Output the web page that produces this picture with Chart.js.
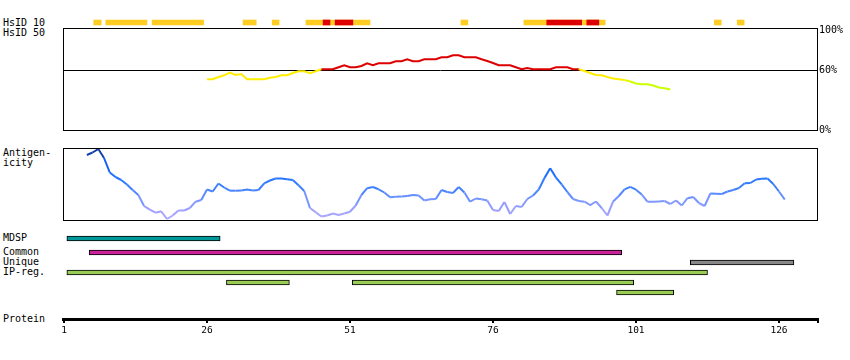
<!DOCTYPE html>
<html>
<head>
<meta charset="utf-8">
<title>HsID / antigenicity map</title>
<script src="https://cdn.jsdelivr.net/npm/chart.js@4.4.1/dist/chart.umd.min.js"></script>
<style>
  body { margin: 0; background: #fff; }
  #wrap { position: relative; width: 850px; height: 360px; overflow: hidden;
          font: 10px "DejaVu Sans Mono", monospace; color: #000; }
  #wrap canvas { position: absolute; left: 0; }
  .lbl { position: absolute; left: 3px; line-height: 10px; white-space: pre; }
</style>
</head>
<body>
<div id="wrap">
  <div class="lbl" style="top:18px">HsID 10</div>
  <div class="lbl" style="top:28px">HsID 50</div>
  <div class="lbl" style="top:148px">Antigen-
icity</div>
  <div class="lbl" style="top:233px">MDSP</div>
  <div class="lbl" style="top:247px">Common
Unique
IP-reg.</div>
  <div class="lbl" style="top:314px">Protein</div>

  <canvas id="hsid10" width="850" height="11" style="top:17px"></canvas>
  <canvas id="hsid50" width="850" height="120" style="top:20px"></canvas>
  <canvas id="antigen" width="850" height="90" style="top:140px"></canvas>
  <canvas id="mdsp" width="850" height="11" style="top:233px"></canvas>
  <canvas id="tracks" width="850" height="51" style="top:247px"></canvas>
  <canvas id="protein" width="850" height="45" style="top:300px"></canvas>
</div>

<script>
// residue ranges [start, end]
const hsid10Yellow = [[6.2, 7.5], [8.3, 15.5], [16.4, 25.4], [32.3, 34.6], [37.4, 38.6],
                      [43.3, 54.5], [70.4, 71.6], [81.4, 95.6], [114.7, 115.9], [118.7, 119.9]];
const hsid10Red    = [[46.3, 47.5], [48.4, 51.5], [85.4, 91.5], [92.4, 94.5]];

// HsID 50 identity (%), one value per residue from hsid50Start
const hsid50Start = 26;
const hsid50 = [50.7, 50.7, 53, 54.7, 57.5, 55, 56, 50.7, 50.7, 50.7,
                50.7, 52.3, 53, 54.7, 54.7, 57, 58.7, 58.7, 56.7, 58.7,
                60.7, 60.7, 60.7, 62.7, 64.7, 62.7, 62.7, 64, 66.7, 64.7,
                66.7, 66.7, 66.7, 68.7, 68.7, 70.7, 68.7, 68.7, 70.7, 70.7,
                70.7, 72.7, 72.7, 74.7, 74.7, 72.7, 72.7, 72.7, 70.7, 69,
                67, 64.7, 64.7, 64.7, 62.7, 60.7, 62, 60.7, 60.7, 60.7,
                60.7, 62.7, 62.7, 62.7, 60.7, 60.7, 59, 57, 55, 54.7,
                53, 51.5, 50.7, 50, 48.5, 46.5, 45.7, 45.7, 44.5, 42.5,
                41.7, 40.5];
const pctTicks = [0, 60, 100];

// antigenicity score, one value per residue from antigenStart
const antigenStart = 5;
const antigen = [65, 67.5, 71, 62, 47.5, 43, 40, 35.5, 30, 25,
                 14, 10.3, 7.3, 8.7, 1, 4.5, 9.5, 9.5, 12, 18.3,
                 20, 30.5, 28.5, 36.5, 32.5, 29.3, 29.3, 29.5, 30.5, 29.5,
                 30, 36.7, 39.5, 41.5, 41.5, 40.7, 40, 34.7, 29, 12,
                 7.7, 3.5, 4.5, 6.5, 5, 6.5, 8.3, 14.5, 25, 31.8,
                 33, 30.7, 27.5, 22.8, 23.2, 23.4, 24, 25, 24.5, 19.5,
                 20.7, 21, 30, 28, 27, 33, 27.5, 18.3, 21.5, 20.7,
                 19.5, 10, 9, 18, 6, 14, 13, 21, 24.5, 30.5,
                 42, 51.7, 42.5, 35.7, 28, 21, 19, 18.3, 15, 18.5,
                 12, 4.5, 18.5, 24, 30.7, 33.2, 30.3, 25.5, 18.3, 18.2,
                 18.5, 19, 16, 19.5, 14.5, 21.8, 23, 17, 14, 26.5,
                 26.2, 26, 28.5, 30, 32, 36.7, 37, 40.5, 41.2, 41.5,
                 36, 28.5, 20.5];

const mdsp     = [[1.5, 28.3]];
const common   = [[5.4, 98.5]];
const unique   = [[110.5, 128.6]];
const ipRegs   = [[1.5, 113.5], [29.4, 40.4], [51.4, 100.6], [97.6, 107.6]];

const proteinTicks = [1, 26, 51, 76, 101, 126];

// ---- layout ----
const PX_PER_RES = 5.72, RES1_PX = 64, AREA_L = 63, AREA_R = 818, W = 850;
const X_MIN = 1 + (AREA_L - RES1_PX) / PX_PER_RES;
const X_MAX = 1 + (AREA_R - RES1_PX) / PX_PER_RES;

Chart.defaults.font.family = '"DejaVu Sans Mono", monospace';
Chart.defaults.font.size = 10;
Chart.defaults.color = '#000';

const xAxis = () => ({ type: 'linear', min: X_MIN, max: X_MAX, display: false });

function baseOptions(extra) {
  return Object.assign({
    responsive: false, animation: false, events: [],
    plugins: { legend: { display: false }, tooltip: { enabled: false } }
  }, extra);
}

// panel frame + optional reference line
const framePlugin = {
  id: 'frame',
  beforeDatasetsDraw(chart, args, opts) {
    if (opts.refLine == null) return;
    const { ctx, chartArea: a } = chart;
    const y = Math.round(chart.scales.y.getPixelForValue(opts.refLine)) + 0.5;
    ctx.save();
    ctx.strokeStyle = '#000'; ctx.lineWidth = 1;
    ctx.beginPath(); ctx.moveTo(a.left, y); ctx.lineTo(a.right, y); ctx.stroke();
    ctx.restore();
  },
  afterDraw(chart, args, opts) {
    if (!opts.box) return;
    const { ctx, chartArea: a } = chart;
    ctx.save();
    ctx.strokeStyle = '#000'; ctx.lineWidth = 1;
    ctx.strokeRect(a.left + 0.5, a.top + 0.5, a.right - a.left - 1, a.bottom - a.top);
    ctx.restore();
  }
};

function barSet(ranges, row, color, bordered, order) {
  return {
    data: ranges.map(r => ({ x: r, y: row })),
    backgroundColor: color,
    borderColor: '#000',
    borderWidth: bordered ? 1 : 0,
    borderSkipped: false,
    barThickness: 5,
    grouped: false,
    order: order || 0
  };
}

function trackChart(id, rows, datasets) {
  return new Chart(document.getElementById(id), {
    type: 'bar',
    data: { labels: rows, datasets },
    options: baseOptions({
      indexAxis: 'y',
      layout: { padding: { left: AREA_L, right: W - AREA_R, top: 0.5, bottom: 0.5 } },
      scales: { x: xAxis(), y: { type: 'category', display: false } }
    })
  });
}

// lanes for overlapping regions
function packLanes(ranges) {
  const ends = [];
  return ranges.map(([s, e]) => {
    let lane = ends.findIndex(end => end < s);
    if (lane < 0) { lane = ends.length; ends.push(e); } else ends[lane] = e;
    return lane;
  });
}

// HsID 10 (red drawn over yellow)
new Chart(document.getElementById('hsid10'), {
  type: 'bar',
  data: { labels: ['HsID 10'], datasets: [
    barSet(hsid10Yellow, 'HsID 10', '#ffcc22', false, 2),
    barSet(hsid10Red, 'HsID 10', '#dd0000', false, 1)
  ] },
  options: baseOptions({
    indexAxis: 'y',
    layout: { padding: { left: AREA_L, right: W - AREA_R, top: 0, bottom: 0 } },
    scales: { x: xAxis(), y: { type: 'category', display: false } }
  })
});

// HsID 50
function hsidColor(v) {
  if (v > 60) return '#dd0000';
  if (v >= 50) return '#ffee00';
  if (v >= 47) return '#e6f700';
  return '#ccff00';
}
new Chart(document.getElementById('hsid50'), {
  type: 'line',
  data: { datasets: [{
    data: hsid50.map((v, i) => ({ x: hsid50Start + i, y: v })),
    borderWidth: 2, pointRadius: 0, tension: 0,
    segment: { borderColor: c => hsidColor(Math.min(c.p0.parsed.y, c.p1.parsed.y)) }
  }] },
  options: baseOptions({
    layout: { padding: { left: AREA_L, right: 0, top: 8, bottom: 10 } },
    scales: {
      x: xAxis(),
      y: {
        position: 'right', min: 0, max: 102,
        afterBuildTicks: s => { s.ticks = pctTicks.map(v => ({ value: v })); },
        afterFit: s => { s.width = W - AREA_R; },
        ticks: { callback: v => v + '%', padding: 1, autoSkip: false },
        grid: { display: false, drawTicks: false },
        border: { display: false }
      }
    },
    plugins: { legend: { display: false }, tooltip: { enabled: false }, frame: { box: true, refLine: 60 } }
  }),
  plugins: [framePlugin]
});

// Antigenicity
const antigenStops = [[0, [176, 170, 255]], [10, [160, 160, 255]], [20, [120, 150, 255]], [30, [70, 130, 255]],
                      [40, [40, 120, 255]], [52, [20, 100, 255]], [62, [20, 80, 200]], [72, [10, 50, 140]]];
function antigenColor(v) {
  for (let i = 1; i < antigenStops.length; i++) {
    const [v1, c1] = antigenStops[i], [v0, c0] = antigenStops[i - 1];
    if (v <= v1 || i === antigenStops.length - 1) {
      const t = Math.max(0, Math.min(1, (v - v0) / (v1 - v0)));
      return 'rgb(' + c0.map((c, k) => Math.round(c + (c1[k] - c) * t)).join(',') + ')';
    }
  }
}
new Chart(document.getElementById('antigen'), {
  type: 'line',
  data: { datasets: [{
    data: antigen.map((v, i) => ({ x: antigenStart + i, y: v })),
    borderWidth: 2, pointRadius: 0, tension: 0,
    segment: { borderColor: c => antigenColor((c.p0.parsed.y + c.p1.parsed.y) / 2) }
  }] },
  options: baseOptions({
    layout: { padding: { left: AREA_L, right: W - AREA_R, top: 8, bottom: 10 } },
    scales: { x: xAxis(), y: { min: 0, max: 72, display: false } },
    plugins: { legend: { display: false }, tooltip: { enabled: false }, frame: { box: true } }
  }),
  plugins: [framePlugin]
});

// MDSP
trackChart('mdsp', ['MDSP'], [barSet(mdsp, 'MDSP', '#009999', true)]);

// Common / Unique / IP-reg.
const lanes = packLanes(ipRegs);
const laneRows = [...new Set(lanes)].map(l => 'IP-reg. ' + l);
trackChart('tracks', ['Common', 'Unique', ...laneRows], [
  barSet(common, 'Common', '#cc2299', true),
  barSet(unique, 'Unique', '#888888', true),
  {
    ...barSet(ipRegs, null, '#99cc55', true),
    data: ipRegs.map((r, i) => ({ x: r, y: 'IP-reg. ' + lanes[i] }))
  }
]);

// Protein axis
new Chart(document.getElementById('protein'), {
  type: 'line',
  data: { datasets: [] },
  options: baseOptions({
    layout: { padding: { left: AREA_L, right: W - AREA_R, top: 0, bottom: 0 } },
    scales: {
      x: {
        type: 'linear', min: X_MIN, max: X_MAX, position: 'bottom',
        afterBuildTicks: s => { s.ticks = proteinTicks.concat([X_MAX]).map(v => ({ value: v })); },
        afterFit: s => { s.height = 26; },
        ticks: {
          autoSkip: false, maxRotation: 0, padding: 2, font: { size: 9.5 },
          callback: v => proteinTicks.includes(v) ? String(v) : ''
        },
        grid: { drawOnChartArea: false, drawTicks: true, tickLength: 4, color: '#000', lineWidth: 2 },
        border: { display: true, width: 3, color: '#000' }
      },
      y: { display: false }
    }
  })
});
</script>
</body>
</html>
